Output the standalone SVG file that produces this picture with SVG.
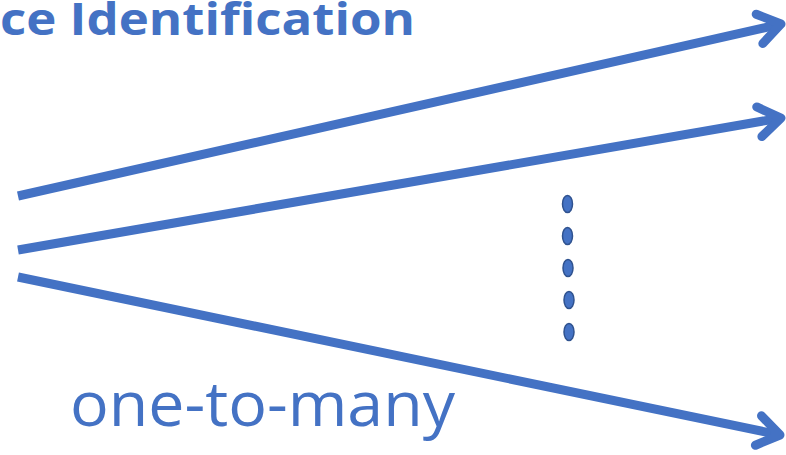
<svg xmlns="http://www.w3.org/2000/svg" width="786" height="455" viewBox="0 0 786 455">
  <style>
    .title { font-family: "Open Sans", "Liberation Sans", sans-serif; font-weight: bold; font-size: 45px; fill: #4472C4; }
    .label { font-family: "Open Sans", "Liberation Sans", sans-serif; font-size: 63px; fill: #4472C4; }
    .arrow { fill: none; stroke: #4472C4; stroke-width: 9; }
    .dot { fill: #4472C4; stroke: #2F528F; stroke-width: 1.5; }
  </style>
  <defs>
    <marker id="open-head" markerUnits="userSpaceOnUse" viewBox="-30 -20 40 40" refX="0" refY="0" markerWidth="40" markerHeight="40" orient="auto" overflow="visible">
      <path d="M -22,-15 L 0,0 L -22,15" fill="none" stroke="#4472C4" stroke-width="9" stroke-linecap="round" stroke-linejoin="round"/>
    </marker>
  </defs>

  <g id="title">
    <text class="title" x="0" y="35" textLength="415" lengthAdjust="spacingAndGlyphs">ce Identification</text>
  </g>

  <g id="connectors">
    <line class="arrow" x1="18" y1="196" x2="781" y2="24" marker-end="url(#open-head)"/>
    <line class="arrow" x1="18" y1="250" x2="781" y2="118" marker-end="url(#open-head)"/>
    <line class="arrow" x1="18" y1="277" x2="780" y2="435" marker-end="url(#open-head)"/>
  </g>

  <g id="ellipsis">
    <ellipse class="dot" cx="567.5" cy="204" rx="5" ry="8.5"/>
    <ellipse class="dot" cx="567.5" cy="236" rx="5" ry="8.5"/>
    <ellipse class="dot" cx="568" cy="268" rx="5" ry="8.5"/>
    <ellipse class="dot" cx="569" cy="300" rx="5" ry="8.5"/>
    <ellipse class="dot" cx="569" cy="332" rx="5" ry="8.5"/>
  </g>

  <g id="caption">
    <text class="label" x="70" y="426" textLength="385" lengthAdjust="spacingAndGlyphs">one-to-many</text>
  </g>
</svg>
